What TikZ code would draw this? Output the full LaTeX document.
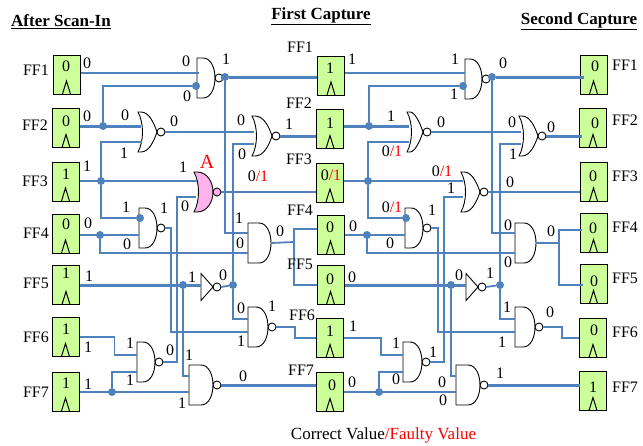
\documentclass[tikz,border=0pt]{standalone}
\usepackage{fontspec}
\setmainfont{Liberation Serif}
\usepackage{tikz}
\definecolor{wireblue}{HTML}{4F81BD}
\definecolor{ffgreen}{HTML}{CCFF99}
\definecolor{faultpink}{HTML}{FFB3EC}
\newcommand{\fault}{{\color{red}/1}}
\tikzset{
  ffbox/.style={draw, line width=1pt, fill=ffgreen, minimum width=27pt, minimum height=39pt, inner sep=0pt,
    path picture={\draw[line width=1pt] ([xshift=-4pt]path picture bounding box.south) -- ++(4,-13) -- ++(4,13);}},
  val/.style={inner sep=0pt, font=\fontsize{16}{16}\selectfont},
  head/.style={inner sep=0pt, font=\fontsize{17}{18}\selectfont\bfseries},
  wire/.style={draw, wireblue, line width=1.8pt},
  wirethick/.style={draw, wireblue, line width=3pt},
  dot/.style={circle, fill=wireblue, inner sep=0pt, minimum size=8pt},
  gateline/.style={draw, line width=0.9pt},
  pics/nandpic/.style={code={
    \path[gateline, pic actions] (0,-20) -- (#1-12,-20) .. controls (#1-4,-20) and (#1,-10) .. (#1,0)
      .. controls (#1,10) and (#1-4,20) .. (#1-12,20) -- (0,20) -- cycle;
    \path[gateline, pic actions] (#1+4,0) circle[radius=4];
    \coordinate (-output) at (#1+8,0);}},
  pics/andpic/.style={code={
    \path[gateline, pic actions] (0,-20) -- (#1-12,-20) .. controls (#1-4,-20) and (#1,-10) .. (#1,0)
      .. controls (#1,10) and (#1-4,20) .. (#1-12,20) -- (0,20) -- cycle;
    \coordinate (-output) at (#1,0);}},
  pics/norpic/.style={code={
    \path[gateline, pic actions] (0,-20) -- (3,-20) .. controls (#1-8,-20) and (#1-3,-9) .. (#1,0)
      .. controls (#1-3,9) and (#1-8,20) .. (3,20) -- (0,20) .. controls (6,9) and (6,-9) .. (0,-20) -- cycle;
    \path[gateline, pic actions] (#1+4,0) circle[radius=4];
    \coordinate (-output) at (#1+8,0);}},
  pics/faultpic/.style={code={
    \path[gateline, pic actions] (0,-20) -- (3,-20) .. controls (#1-6,-20) and (#1,-10) .. (#1,0)
      .. controls (#1,10) and (#1-6,20) .. (3,20) -- (0,20) .. controls (6,9) and (6,-9) .. (0,-20) -- cycle;
    \path[gateline, pic actions] (#1+4,0) circle[radius=4];
    \coordinate (-output) at (#1+8,0);}},
  pics/notpic/.style={code={
    \path[gateline, pic actions] (0,-13.5) -- (12,0) -- (0,13.5) -- cycle;
    \path[gateline, pic actions] (16,0) circle[radius=4];
    \coordinate (-output) at (20,0);}},
}
\begin{document}
\begin{tikzpicture}[x=1pt,y=-1pt]
\useasboundingbox (0,0) rectangle (643,445);

% flip-flops
\node[ffbox] (ffa1) at (66.5,74.5) {};
\node[ffbox] (ffa2) at (66,128) {};
\node[ffbox] (ffa3) at (65.5,181.5) {};
\node[ffbox] (ffa4) at (65.5,233.5) {};
\node[ffbox] (ffa5) at (66,285) {};
\node[ffbox] (ffa6) at (65.5,337) {};
\node[ffbox] (ffa7) at (65.5,391.5) {};

\node[ffbox] (ffb1) at (331,75.5) {};
\node[ffbox] (ffb2) at (330,129) {};
\node[ffbox] (ffb3) at (330,182.5) {};
\node[ffbox] (ffb4) at (330.5,234.5) {};
\node[ffbox] (ffb5) at (330.5,285) {};
\node[ffbox] (ffb6) at (330,338) {};
\node[ffbox] (ffb7) at (330,392) {};

\node[ffbox] (ffc1) at (593.5,74.5) {};
\node[ffbox] (ffc2) at (593,128) {};
\node[ffbox] (ffc3) at (593.5,181.5) {};
\node[ffbox] (ffc4) at (593.5,233) {};
\node[ffbox] (ffc5) at (593.5,284) {};
\node[ffbox] (ffc6) at (593,338) {};
\node[ffbox] (ffc7) at (593,391) {};

% gates
\pic (ga1) at (197,78) {nandpic=18};
\pic (ga2) at (138,132) {norpic=19};
\pic[fill=faultpink] (ga3) at (194,192) {faultpic=19};
\pic (ga4) at (139,228) {nandpic=18};
\pic (ga5) at (201,287) {notpic};
\pic (ga6) at (137,362) {nandpic=18};
\pic (ga7) at (189,385) {nandpic=24};
\pic (gb1) at (252,136) {norpic=20};
\pic (gb2) at (248,243) {andpic=23};
\pic (gb3) at (248,327) {nandpic=20};
\pic (gc1) at (465,79) {nandpic=17};
\pic (gc2) at (407,132) {norpic=16};
\pic (gc3) at (461,192) {norpic=19};
\pic (gc4) at (405,228) {nandpic=18};
\pic (gc5) at (466,287) {notpic};
\pic (gc6) at (403,362) {nandpic=19};
\pic (gc7) at (456,385) {nandpic=24};
\pic (gd1) at (519,136) {norpic=19};
\pic (gd2) at (515,243) {andpic=21};
\pic (gd3) at (515,327) {nandpic=20};

% junctions
\node[dot] (ja2) at (103,126) {};
\node[dot] (ja3) at (101,181) {};
\node[dot] (ja4) at (100,235) {};
\node[dot] (ja5) at (183,285) {};
\node[dot] (ja7) at (112,392) {};
\node[dot] (jg1) at (196,86) {};
\node[dot] (jg4) at (140,218) {};
\node[dot] (jb1) at (225,77) {};
\node[dot] (jb5) at (233,285) {};
\node[dot] (jb2) at (369,126) {};
\node[dot] (jb3) at (368,181) {};
\node[dot] (jb4) at (367,235) {};
\node[dot] (jc5) at (451,285) {};
\node[dot] (jb7) at (379,392) {};
\node[dot] (jc1) at (463,86) {};
\node[dot] (jc4) at (406,218) {};
\node[dot] (jd1) at (492,77) {};
\node[dot] (jd5) at (500,285) {};

% gate inputs and bends
\coordinate (ga1p) at (199,73);
\coordinate (ga2p) at (141,126);
\coordinate (ga2q) at (142,142);
\coordinate (ga3p) at (197,181);
\coordinate (ga3q) at (196,197);
\coordinate (ga4q) at (139,235);
\coordinate (ga5p) at (201,285);
\coordinate (ga6p) at (137,355);
\coordinate (ga6q) at (137,372);
\coordinate (ga7p) at (189,376);
\coordinate (ga7q) at (189,392);
\coordinate (gb1p) at (254,132);
\coordinate (gb1q) at (254,144);
\coordinate (gb2p) at (248,233);
\coordinate (gb2q) at (248,253);
\coordinate (gb3p) at (248,319);
\coordinate (gb3q) at (248,332);
\coordinate (gc1p) at (465,73);
\coordinate (gc2p) at (409,126);
\coordinate (gc2q) at (409,142);
\coordinate (gc3p) at (463,181);
\coordinate (gc3q) at (463,197);
\coordinate (gc4q) at (405,235);
\coordinate (gc5p) at (466,285);
\coordinate (gc6p) at (403,355);
\coordinate (gc6q) at (403,372);
\coordinate (gc7p) at (456,376);
\coordinate (gc7q) at (456,392);
\coordinate (gd1p) at (521,132);
\coordinate (gd1q) at (521,144);
\coordinate (gd2p) at (515,233);
\coordinate (gd2q) at (515,253);
\coordinate (gd3p) at (515,319);
\coordinate (gd3q) at (515,332);
\coordinate (bb4) at (294,242);
\coordinate (ffb4p) at (317,229);
\coordinate (bd2) at (559,243);
\coordinate (ffc4p) at (582,230);
\coordinate (ffc5p) at (583,285);

% after scan-in wires
\path[wire] (ffa1.east |- ga1p) -- (ga1p);
\path[wirethick] (ffa2.east |- ja2) -- (ga2p);
\path[wire] (ja2) |- (jg1);
\path[wire] (ffa3.east |- ja3) -- (ga3p);
\path[wire] (ja3) |- (ga2q);
\path[wire] (ja3) |- (jg4);
\path[wire] (ffa4.east |- ja4) -- (ga4q);
\path[wire] (ja4) |- (gb2q);
\path[wirethick] (ffa5.east |- ja5) -- (ga5p);
\path[wire] (ja5) |- (ga7p);
\path[wire] (ffa6.east) -- ++(35,0) |- (ga6p);
\path[wire] (ffa7.east |- ja7) -- (ga7q);
\path[wire] (ja7) |- (ga6q);
\path[wire] (ga6-output) -- ++(14,0) |- (ga3q);
\path[wire] (ga4-output) -- ++(6,0) |- (gb3q);
\path[wire] (ga2-output) -- (gb1p);
\path[wire] (ga3-output) -- (ffb3.west |- ga3-output);
\path[wire] (ga1-output) -- (jb1);
\path[wirethick] (jb1) -- (ffb1.west |- jb1);
\path[wire] (jb1) |- (gb2p);
\path[wire] (ga5-output) -- (jb5);
\path[wire] (gb1q) -| (jb5);
\path[wire] (jb5) |- (gb3p);
\path[wirethick] (ga7-output) -- (ffb7.west |- ga7-output);
\path[wirethick] (gb1-output) -- (ffb2.west |- gb1-output);
\path[wire] (gb2-output) -- (bb4);
\path[wire] (bb4) |- (ffb4p);
\path[wire] (bb4) |- (ffb5.west);
\path[wire] (gb3-output) -- ++(19,0) |- (ffb6.west);

% first capture wires
\path[wire] (ffb1.east |- gc1p) -- (gc1p);
\path[wirethick] (ffb2.east |- jb2) -- (gc2p);
\path[wire] (jb2) |- (jc1);
\path[wire] (ffb3.east |- jb3) -- (gc3p);
\path[wire] (jb3) |- (gc2q);
\path[wire] (jb3) |- (jc4);
\path[wire] (ffb4.east |- jb4) -- (gc4q);
\path[wire] (jb4) |- (gd2q);
\path[wirethick] (ffb5.east |- jc5) -- (gc5p);
\path[wire] (jc5) |- (gc7p);
\path[wire] (ffb6.east) -- ++(37,0) |- (gc6p);
\path[wire] (ffb7.east |- jb7) -- (gc7q);
\path[wire] (jb7) |- (gc6q);
\path[wire] (gc6-output) -- ++(14,0) |- (gc3q);
\path[wire] (gc4-output) -- ++(7,0) |- (gd3q);
\path[wire] (gc2-output) -- (gd1p);
\path[wire] (gc3-output) -- (ffc3.west |- gc3-output);
\path[wire] (gc1-output) -- (jd1);
\path[wirethick] (jd1) -- ([xshift=4pt]ffc1.west |- jd1);
\path[wire] (jd1) |- (gd2p);
\path[wire] (gc5-output) -- (jd5);
\path[wire] (gd1q) -| (jd5);
\path[wire] (jd5) |- (gd3p);
\path[wirethick] (gc7-output) -- ([xshift=1pt]ffc7.west |- gc7-output);
\path[wirethick] (gd1-output) -- ([xshift=3pt]ffc2.west |- gd1-output);
\path[wire] (gd2-output) -- (bd2);
\path[wire] (bd2) |- (ffc4p);
\path[wire] (bd2) |- (ffc5p);
\path[wire] (gd3-output) -- ++(19,0) |- (ffc6.west);

% headings
\node[head] (h1) at (61,22) {\underline{After Scan-In}};
\node[head] (h2) at (321,16) {\underline{First Capture}};
\node[head] (h3) at (579,21) {\underline{Second Capture}};
\node[inner sep=0pt, font=\fontsize{17}{18}\selectfont] (note) at (383.5,435) {Correct Value\textcolor{red}{/Faulty Value}};
\node[inner sep=0pt, font=\fontsize{20}{20}\selectfont, text=red] (faulta) at (207,162) {A};

% ff names
\node[val] (na1) at (36,70) {FF1};
\node[val] (na2) at (35,125) {FF2};
\node[val] (na3) at (35,181) {FF3};
\node[val] (na4) at (36,233) {FF4};
\node[val] (na5) at (36,283) {FF5};
\node[val] (na6) at (36,337) {FF6};
\node[val] (na7) at (36,392) {FF7};
\node[val] (nb1) at (300,47) {FF1};
\node[val] (nb2) at (299,103) {FF2};
\node[val] (nb3) at (299,159) {FF3};
\node[val] (nb4) at (300,210) {FF4};
\node[val] (nb5) at (300,264) {FF5};
\node[val] (nb6) at (302,315) {FF6};
\node[val] (nb7) at (301,370) {FF7};
\node[val] (nc1) at (625,65) {FF1};
\node[val] (nc2) at (625,120) {FF2};
\node[val] (nc3) at (625,176) {FF3};
\node[val] (nc4) at (625,227) {FF4};
\node[val] (nc5) at (625,278) {FF5};
\node[val] (nc6) at (625,332) {FF6};
\node[val] (nc7) at (625,387) {FF7};

% values stored in the ffs
\node[val] (sa1) at (66,66) {0};
\node[val] (sa2) at (66,121) {0};
\node[val] (sa3) at (66,174) {1};
\node[val] (sa4) at (66,224) {0};
\node[val] (sa5) at (66,273) {1};
\node[val] (sa6) at (66,329) {1};
\node[val] (sa7) at (66,383) {1};
\node[val] (sb1) at (330,68) {1};
\node[val] (sb2) at (330,123) {1};
\node[val] (sb3) at (331,175) {0\fault};
\node[val] (sb4) at (330,227) {0};
\node[val] (sb5) at (330,279) {0};
\node[val] (sb6) at (330,331) {1};
\node[val] (sb7) at (332,385) {0};
\node[val] (sc1) at (595,66) {0};
\node[val] (sc2) at (595,123) {0};
\node[val] (sc3) at (593,176) {0};
\node[val] (sc4) at (593,228) {0};
\node[val] (sc5) at (594,281) {0};
\node[val] (sc6) at (594,330) {0};
\node[val] (sc7) at (593,387) {1};

% values on the wires, scan-in side
\node[val] (v1) at (87,63) {0};
\node[val] (v2) at (87,116) {0};
\node[val] (v3) at (87,166) {1};
\node[val] (v4) at (88,223) {0};
\node[val] (v5) at (89,276) {1};
\node[val] (v6) at (88,347) {1};
\node[val] (v7) at (88,384) {1};
\node[val] (v8) at (186,61) {0};
\node[val] (v9) at (187,96) {0};
\node[val] (v10) at (226,59) {1};
\node[val] (v11) at (125,115) {0};
\node[val] (v12) at (124,153) {1};
\node[val] (v13) at (174,121) {0};
\node[val] (v14) at (183,167) {1};
\node[val] (v15) at (185,206) {0};
\node[val] (v16) at (126,207) {1};
\node[val] (v17) at (164,208) {1};
\node[val] (v18) at (127,244) {0};
\node[val] (v19) at (192,277) {1};
\node[val] (v20) at (223,275) {0};
\node[val] (v21) at (130,343) {1};
\node[val] (v22) at (130,380) {1};
\node[val] (v23) at (170,350) {0};
\node[val] (v24) at (189,355) {1};
\node[val] (v25) at (182,403) {1};
\node[val] (v26) at (243,376) {0};

% first capture side
\node[val] (v27) at (241,120) {0};
\node[val] (v28) at (242,154) {0};
\node[val] (v29) at (289,124) {1};
\node[val] (v30) at (258,176) {0\fault};
\node[val] (v31) at (239,218) {1};
\node[val] (v32) at (240,243) {0};
\node[val] (v33) at (280,231) {0};
\node[val] (v34) at (241,308) {0};
\node[val] (v35) at (241,341) {1};
\node[val] (v36) at (272,306) {1};
\node[val] (v37) at (352,59) {1};
\node[val] (v38) at (391,116) {1};
\node[val] (v39) at (392,151) {0\fault};
\node[val] (v40) at (441,122) {0};
\node[val] (v41) at (442,171) {0\fault};
\node[val] (v42) at (392,207) {0\fault};
\node[val] (v43) at (353,226) {0};
\node[val] (v44) at (390,243) {0};
\node[val] (v45) at (432,210) {1};
\node[val] (v46) at (451,188) {1};
\node[val] (v47) at (352,277) {0};
\node[val] (v48) at (353,326) {1};
\node[val] (v49) at (396,343) {1};
\node[val] (v50) at (396,379) {0};
\node[val] (v51) at (352,382) {0};

% second capture side
\node[val] (v52) at (455,59) {1};
\node[val] (v53) at (454,94) {1};
\node[val] (v54) at (503,63) {0};
\node[val] (v55) at (512,122) {0};
\node[val] (v56) at (513,154) {1};
\node[val] (v57) at (551,127) {0};
\node[val] (v58) at (510,182) {0};
\node[val] (v59) at (508,225) {0};
\node[val] (v60) at (508,262) {0};
\node[val] (v61) at (551,231) {0};
\node[val] (v62) at (459,275) {0};
\node[val] (v63) at (490,273) {1};
\node[val] (v64) at (507,307) {1};
\node[val] (v65) at (502,342) {1};
\node[val] (v66) at (550,312) {0};
\node[val] (v67) at (433,352) {1};
\node[val] (v68) at (442,382) {0};
\node[val] (v69) at (443,400) {0};
\node[val] (v70) at (500,373) {1};
\end{tikzpicture}
\end{document}
